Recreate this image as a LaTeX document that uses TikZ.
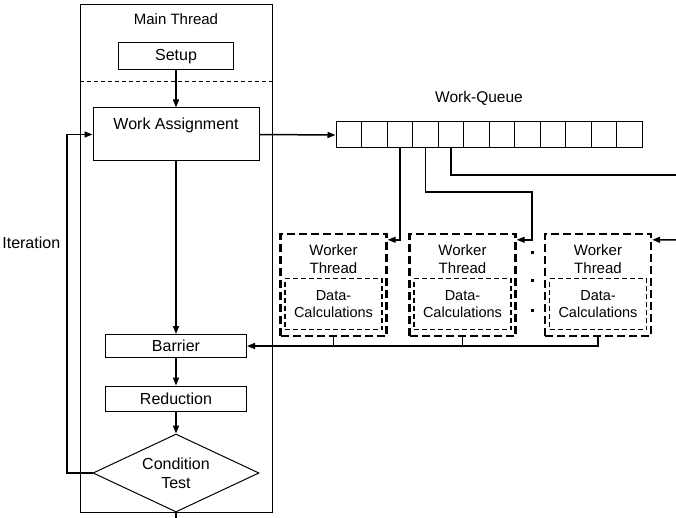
\documentclass[tikz,border=0pt]{standalone}
\usepackage{fontspec}
\setmainfont{Liberation Sans}
\usetikzlibrary{arrows.meta,shapes.geometric}

\begin{document}
\begin{tikzpicture}[
x=1pt, y=-1pt,
font=\fontsize{16}{19}\selectfont,
line width=1pt,
box/.style={draw, rectangle, inner sep=0pt},
link/.style={line width=1.5pt},
arr/.style={link, -{Triangle[length=8pt,width=6pt]}},
cell/.style={draw, minimum width=25.5pt, minimum height=26pt, inner sep=0pt},
worker/.style={draw, line width=2.4pt, dash pattern=on 8pt off 4pt,
  minimum width=106pt, minimum height=102pt},
calc/.style={draw, line width=1.2pt, dash pattern=on 5pt off 3pt,
  minimum width=97pt, minimum height=51pt, inner sep=0pt, align=center,
  font=\fontsize{14.5}{17}\selectfont},
]
\useasboundingbox (0,0) rectangle (676,518);

% главный поток
\node[box, minimum width=192pt, minimum height=507pt] (main) at (176,258.5) {};
\node[font=\fontsize{15}{18}\selectfont] (title) at (176,19) {Main Thread};
\node[box, minimum width=115pt, minimum height=27pt] (setup) at (176,56.5) {Setup};
\draw[dash pattern=on 4pt off 3pt] (main.west |- 0,82) -- (main.east |- 0,82);
\node[box, minimum width=166pt, minimum height=53pt,
  text height=12pt, text depth=21pt] (wa) at (176,134.5) {Work Assignment};
\node[box, minimum width=141pt, minimum height=23pt] (barrier) at (176,346) {Barrier};
\node[box, minimum width=141pt, minimum height=25pt] (reduction) at (176,398.5) {Reduction};
\node[draw, diamond, aspect=2.13, minimum width=166pt, minimum height=78pt,
  inner sep=0pt, align=center] (cond) at (176,473) {Condition\\Test};

\draw[arr] (setup.south) -- (wa.north);
\draw[arr] (wa.south) -- (barrier.north);
\draw[arr] (barrier) -- (reduction);
\draw[arr] (reduction) -- (cond);
\coordinate (exit) at (176,520);
\draw[link] (cond.south) -- (exit);

% цикл
\coordinate (loop) at (67,134.5);
\draw[arr] (cond.west) -| (loop) -- (wa.west);
\node[anchor=east] (iter) at (64,243) {Iteration};

% очередь
\node[font=\fontsize{15.5}{18}\selectfont] (wqlabel) at (479,98) {Work-Queue};
\foreach \i in {1,...,12}
  \node[cell] (q\i) at ({336+25.5*(\i-0.5)},135) {};
\draw[arr] (wa.east) -- (q1.west);

% рабочие потоки
\foreach \n/\xc in {1/333.5, 2/462.5, 3/598} {
  \node[worker] (w\n) at (\xc,285) {};
  \node[anchor=north, inner sep=0pt, align=center,
    font=\fontsize{15}{18}\selectfont] (wt\n) at ([yshift=-11pt]w\n.north) {Worker\\Thread};
  \node[calc, anchor=south] (d\n) at ([yshift=7pt]w\n.south) {Data-\\Calculations};
}
\foreach \y in {253,280,310}
  \fill (530.5,\y-1.5) rectangle ++(3,3); % точки

\draw[arr] (q3.south) |- ([yshift=-7pt]w1.north east);
\coordinate (turn) at (532,192);
\draw[arr] (q4.south) |- (turn) |- ([yshift=-7pt]w2.north east);
\coordinate (offa) at (676,175);
\draw[link] (q5.south) |- (offa);
\coordinate (offb) at (676,240);
\draw[arr] (offb) -- ([yshift=-7pt]w3.north east);

\draw[link] (w1.south) -- (w1.south |- barrier.east);
\draw[link] (w2.south) -- (w2.south |- barrier.east);
\draw[arr] (w3.south) |- (barrier.east);
\end{tikzpicture}
\end{document}
